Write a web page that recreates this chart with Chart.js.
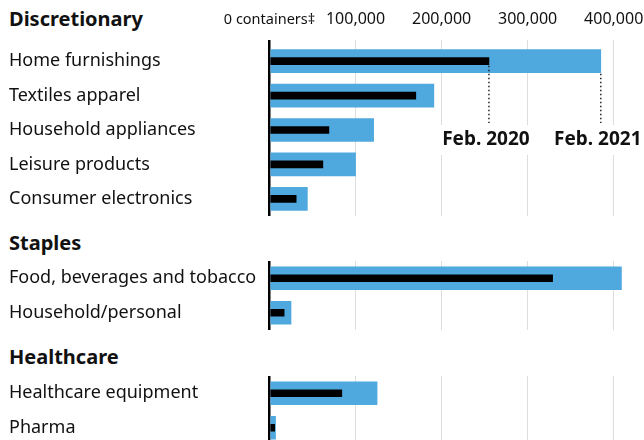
<!DOCTYPE html>
<html>
<head>
<meta charset="utf-8">
<script src="https://cdn.jsdelivr.net/npm/chart.js@4.4.1/dist/chart.umd.min.js"></script>
<style>
  html, body { margin: 0; padding: 0; background: #fff; }
  body { width: 644px; height: 440px; overflow: hidden; position: relative; font-family: "Noto Sans", sans-serif; color: #111; }
  .group-title { position: absolute; left: 9px; font-weight: bold; font-size: 20px; line-height: 24px; }
  .box { position: absolute; left: 0; width: 660px; }
</style>
</head>
<body>
<div class="group-title" style="top:7px">Discretionary</div>
<div class="group-title" style="top:231px">Staples</div>
<div class="group-title" style="top:345px">Healthcare</div>

<div class="box" style="top:0; height:216px"><canvas id="disc"></canvas></div>
<div class="box" style="top:261px; height:69px"><canvas id="staples"></canvas></div>
<div class="box" style="top:376px; height:69px"><canvas id="health"></canvas></div>

<script>
const discLabels = ['Home furnishings', 'Textiles apparel', 'Household appliances', 'Leisure products', 'Consumer electronics'];
const disc2021 = [385000, 191000, 121000, 100000, 44000];
const disc2020 = [255000, 170000, 69000, 62000, 31000];

const staplesLabels = ['Food, beverages and tobacco', 'Household/personal'];
const staples2021 = [409000, 25000];
const staples2020 = [329000, 17000];

const healthLabels = ['Healthcare equipment', 'Pharma'];
const health2021 = [125000, 7000];
const health2020 = [84000, 6000];

const tickValues = [0, 100000, 200000, 300000, 400000];
const tickLabels = ['0 containers‡', '100,000', '200,000', '300,000', '400,000'];

const BLUE = '#4fa8de';
const INK = '#111';

// dotted leaders + "Feb. 2020" / "Feb. 2021" labels on the first row
const markers = {
  id: 'markers',
  afterDatasetsDraw(chart) {
    const ctx = chart.ctx;
    const y = chart.scales.y;
    const labelY = y.getPixelForValue(2) + 10;
    const items = [
      { meta: chart.getDatasetMeta(0), text: 'Feb. 2020' },
      { meta: chart.getDatasetMeta(1), text: 'Feb. 2021' }
    ];
    ctx.save();
    ctx.font = 'bold 19px "Noto Sans"';
    ctx.textAlign = 'center';
    ctx.textBaseline = 'middle';
    items.forEach(item => {
      const bar = item.meta.data[0];
      const bottom = bar.y + bar.height / 2;
      const w = ctx.measureText(item.text).width;
      ctx.fillStyle = '#fff';
      ctx.fillRect(bar.x - 3 - w / 2 - 4, labelY - 15, w + 8, 30);
      ctx.strokeStyle = '#222';
      ctx.lineWidth = 1.5;
      ctx.setLineDash([1.5, 2.5]);
      ctx.beginPath();
      ctx.moveTo(bar.x, bottom + 1);
      ctx.lineTo(bar.x, labelY - 17);
      ctx.stroke();
      ctx.fillStyle = INK;
      ctx.fillText(item.text, bar.x - 3, labelY);
    });
    ctx.restore();
  }
};

function makeChart(id, labels, now, before, withTicks) {
  return new Chart(document.getElementById(id), {
    type: 'bar',
    data: {
      labels: labels,
      datasets: [
        { label: 'Feb. 2020', data: before, backgroundColor: '#000', barThickness: 7, grouped: false, order: 0 },
        { label: 'Feb. 2021', data: now, backgroundColor: BLUE, barThickness: 23, grouped: false, order: 1 }
      ]
    },
    options: {
      indexAxis: 'y',
      responsive: true,
      maintainAspectRatio: false,
      animation: false,
      layout: { padding: { left: 9, right: 5, top: 0, bottom: 0 } },
      scales: {
        x: {
          position: 'top',
          min: 0,
          max: 448000,
          afterBuildTicks: scale => { scale.ticks = tickValues.map(v => ({ value: v })); },
          afterFit: scale => {
            scale.height = withTicks ? 44 : 0;
            scale.paddingLeft = 0;
            scale.paddingRight = 0;
          },
          border: { display: false },
          grid: {
            drawTicks: withTicks,
            tickLength: 4,
            color: c => (c.tick && c.tick.value === 0 ? '#000' : '#dddddd'),
            lineWidth: c => (c.tick && c.tick.value === 0 ? 2.5 : 1)
          },
          ticks: {
            display: withTicks,
            autoSkip: false,
            padding: 11,
            maxRotation: 0,
            color: INK,
            font: c => ({ family: 'Noto Sans', size: c.tick && c.tick.value === 0 ? 14.5 : 16 }),
            callback: v => tickLabels[tickValues.indexOf(v)]
          }
        },
        y: {
          afterFit: scale => {
            scale.width = 260.5;
            scale.paddingTop = 0;
            scale.paddingBottom = 0;
          },
          border: { display: false },
          grid: { display: false, drawTicks: false },
          ticks: {
            crossAlign: 'far',
            color: INK,
            font: { family: 'Noto Sans', size: 18 }
          }
        }
      },
      plugins: {
        legend: { display: false },
        tooltip: { enabled: false }
      }
    },
    plugins: withTicks ? [markers] : []
  });
}

makeChart('disc', discLabels, disc2021, disc2020, true);
makeChart('staples', staplesLabels, staples2021, staples2020, false);
makeChart('health', healthLabels, health2021, health2020, false);
</script>
</body>
</html>
